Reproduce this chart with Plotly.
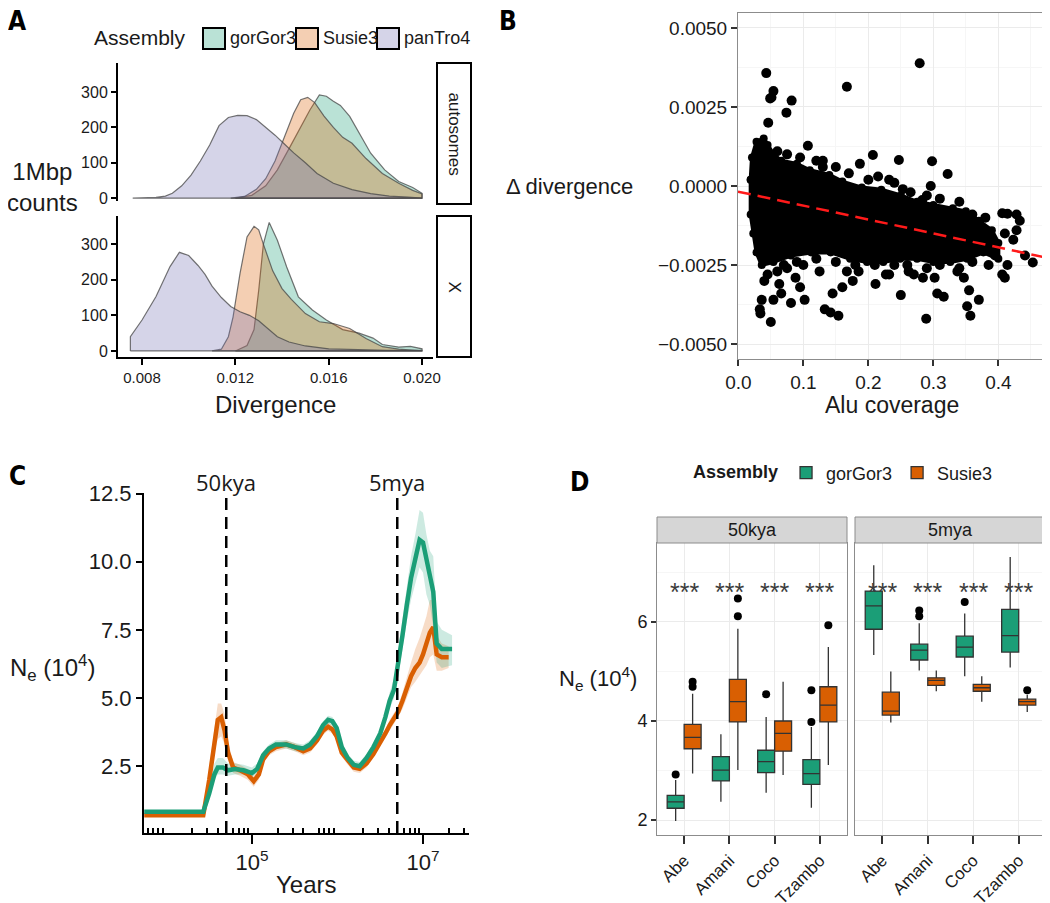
import numpy as np
import plotly.graph_objects as go

W, H = 1050, 903
OFF = 8  # the page body margin moves the figure 8px right and down
FONT = "Liberation Sans, Arial, Helvetica, sans-serif"
NARROW = "Liberation Sans Narrow, Arial Narrow, DejaVu Sans Condensed, sans-serif"


def fx(p):  # screen column -> paper x
    return (p - OFF) / W


def fy(p):  # screen row -> paper y
    return 1 - (p - OFF) / H


# ---------------- A: divergence densities per 1Mbp window ----------------
auto_gor_x = [0.0120, 0.0127, 0.0133, 0.0138, 0.0143, 0.0148, 0.0152, 0.0156, 0.0159, 0.0162, 0.0165,
              0.0169, 0.0173, 0.0178, 0.0184, 0.0190, 0.0196, 0.0200, 0.0200]
auto_gor_y = [0, 8, 35, 80, 140, 200, 250, 292, 288, 274, 262, 231, 184, 127, 80, 47, 30, 14, 0]
auto_sus_x = [0.0118, 0.0124, 0.0129, 0.0133, 0.0137, 0.0141, 0.0145, 0.0148, 0.0151, 0.0154, 0.0158,
              0.0162, 0.0166, 0.0170, 0.0176, 0.0183, 0.0190, 0.0196, 0.0200, 0.0200]
auto_sus_y = [0, 5, 25, 55, 105, 170, 240, 278, 285, 270, 232, 200, 172, 155, 112, 70, 42, 22, 12, 0]
auto_pan_x = [0.0076, 0.0082, 0.0086, 0.0090, 0.0093, 0.0097, 0.0101, 0.0105, 0.0109, 0.0113, 0.0117,
              0.0121, 0.0125, 0.0129, 0.0133, 0.0137, 0.0141, 0.0145, 0.0150, 0.0155, 0.0162, 0.0170,
              0.0178, 0.0186, 0.0194, 0.0200, 0.0200]
auto_pan_y = [0, 1, 2, 6, 14, 35, 65, 105, 150, 205, 228, 234, 233, 222, 200, 178, 153, 128, 100, 70,
              42, 24, 13, 6, 3, 2, 0]

x_gor_x = [0.0120, 0.0125, 0.0128, 0.0130, 0.0132, 0.01345, 0.0138, 0.0142, 0.0147, 0.0153, 0.0159,
           0.0166, 0.0173, 0.0179, 0.0183, 0.0190, 0.0195, 0.0200, 0.0200]
x_gor_y = [0, 15, 60, 170, 300, 361, 311, 236, 152, 115, 87, 60, 50, 36, 18, 11, 13, 6, 0]
x_sus_x = [0.0110, 0.0114, 0.0117, 0.0119, 0.0122, 0.0125, 0.0128, 0.0130, 0.0132, 0.0136, 0.0140,
           0.0144, 0.0150, 0.0156, 0.0162, 0.0169, 0.0176, 0.0183, 0.0190, 0.0200, 0.0200]
x_sus_y = [0, 5, 40, 95, 218, 320, 350, 340, 300, 225, 175, 145, 105, 82, 77, 63, 35, 12, 5, 2, 0]
x_pan_x = [0.0075, 0.0075, 0.0080, 0.0086, 0.0092, 0.0096, 0.0100, 0.0104, 0.0107, 0.0110, 0.0114,
           0.0118, 0.0122, 0.0126, 0.0130, 0.0134, 0.0138, 0.0143, 0.0150, 0.0160, 0.0170, 0.0185,
           0.0200, 0.0200]
x_pan_y = [0, 40, 87, 153, 237, 277, 268, 240, 215, 182, 150, 125, 110, 100, 85, 62, 40, 25, 14, 6,
           4, 2, 2, 0]

a_assemblies = ["gorGor3", "Susie3", "panTro4"]
a_ticks = [0.008, 0.012, 0.016, 0.020]
a_count_ticks = [0, 100, 200, 300]

# ---------------- B: Alu coverage vs delta divergence ----------------
# dense core of the cloud (outline, read clockwise)
core_x = [0.019, 0.021, 0.028, 0.039, 0.045, 0.054, 0.066, 0.090, 0.110, 0.140, 0.160, 0.190, 0.220,
          0.250, 0.275, 0.300, 0.330, 0.350, 0.370, 0.390, 0.400,
          0.400, 0.377, 0.352, 0.326, 0.300, 0.275, 0.249, 0.223, 0.198, 0.172, 0.142, 0.112, 0.081,
          0.054, 0.036, 0.028, 0.023, 0.019]
core_y = [0.0002, 0.0009, 0.0014, 0.0015, 0.0013, 0.0010, 0.0008, 0.0007, 0.0005, 0.00035, 0.00014,
          -0.00005, -0.00012, -0.0003, -0.0005, -0.0006, -0.0007, -0.0008, -0.0011, -0.0014, -0.0018,
          -0.0023, -0.0021, -0.0023, -0.0024, -0.0024, -0.0023, -0.0023, -0.0024, -0.0024, -0.0023,
          -0.0021, -0.0021, -0.0022, -0.0024, -0.0025, -0.0021, -0.0015, -0.0009]
# scattered windows around and outside the core
b_x = [0.043, 0.279, 0.167, 0.049, 0.054, 0.051, 0.082, 0.074, 0.046, 0.107, 0.207, 0.247, 0.298,
       0.322, 0.187, 0.232, 0.296, 0.253, 0.283, 0.406, 0.414, 0.428, 0.433, 0.428, 0.423, 0.441,
       0.453, 0.034, 0.050, 0.036, 0.033, 0.054, 0.066, 0.063, 0.081, 0.088, 0.095, 0.102, 0.100,
       0.133, 0.142, 0.154, 0.145, 0.160, 0.211, 0.250, 0.289, 0.302, 0.306, 0.316, 0.352, 0.357,
       0.355, 0.370, 0.347, 0.337, 0.406, 0.410, 0.414, 0.284, 0.232, 0.262, 0.167, 0.176, 0.125,
       0.185, 0.227, 0.270, 0.040, 0.045, 0.060, 0.075, 0.120, 0.150, 0.130,
       0.060, 0.075, 0.095, 0.130, 0.170, 0.200, 0.215, 0.240, 0.265, 0.290, 0.310, 0.340, 0.360,
       0.380, 0.410, 0.070, 0.090, 0.120, 0.150, 0.180, 0.210, 0.240, 0.260, 0.290, 0.310, 0.340,
       0.360, 0.385, 0.395]
b_y = [0.00357, 0.00388, 0.00314, 0.00277, 0.0030, 0.0028, 0.0027, 0.00232, 0.0020, 0.00127,
       0.00098, 0.00082, 0.00078, 0.00038, 0.0007, 0.0002, 0.0, -0.0001, -0.00044, -0.00086,
       -0.00088, -0.0009, -0.0011, -0.0014, -0.0017, -0.0022, -0.00242, -0.00403, -0.0043,
       -0.0036, -0.0039, -0.0036, -0.0034, -0.0031, -0.0037, -0.0029, -0.0032, -0.0036, -0.0025,
       -0.0039, -0.0040, -0.0041, -0.0034, -0.0032, -0.0031, -0.00345, -0.0042, -0.0029, -0.0034,
       -0.0035, -0.0038, -0.0041, -0.0033, -0.0036, -0.0029, -0.0027, -0.0028, -0.0029, -0.0025,
       -0.0029, -0.0028, -0.0027, -0.0027, -0.0030, -0.0027, -0.0027, -0.0028, -0.0028, -0.0030,
       -0.0028, -0.0027, -0.0026, 0.0008, 0.0006, 0.0006,
       0.0011, 0.0010, 0.0009, 0.0008, 0.0004, 0.0002, 0.0003, 0.0001, -0.0002, -0.0003, -0.0004,
       -0.0005, -0.0009, -0.0010, -0.0015, -0.0025, -0.0024, -0.0023, -0.0024, -0.0025, -0.0025,
       -0.0025, -0.0025, -0.0026, -0.0025, -0.0026, -0.0024, -0.0025, -0.0022]
fit_intercept = -0.00018
fit_slope = -0.0044

# ---------------- C: PSMC Ne through time ----------------
c_gor_logyr = [3.74, 4.43, 4.50, 4.56, 4.60, 4.66, 4.72, 4.80, 4.90, 5.00, 5.06, 5.13, 5.20, 5.28, 5.40,
               5.50, 5.60, 5.68, 5.76, 5.83, 5.89, 5.94, 5.99, 6.05, 6.12, 6.19, 6.26, 6.34, 6.42, 6.50,
               6.56, 6.61, 6.66, 6.71, 6.76, 6.81, 6.86, 6.91, 6.96, 7.00, 7.04, 7.08, 7.12, 7.16, 7.22,
               7.34]
c_gor_ne = [0.83, 0.83, 1.5, 2.2, 2.45, 2.45, 2.35, 2.4, 2.35, 2.25, 2.4, 2.9, 3.15, 3.3, 3.3, 3.2, 3.15,
            3.3, 3.6, 4.0, 4.2, 4.15, 3.9, 3.2, 2.8, 2.55, 2.5, 2.8, 3.2, 3.7, 4.3, 4.9, 5.3, 6.2, 7.3,
            8.4, 9.4, 10.1, 10.8, 10.7, 10.0, 9.5, 8.9, 7.0, 6.8, 6.8]
c_gor_lo = [0.78, 0.78, 1.3, 2.0, 2.2, 2.2, 2.15, 2.2, 2.2, 2.1, 2.25, 2.75, 3.0, 3.15, 3.15, 3.05, 3.0,
            3.15, 3.45, 3.85, 4.05, 4.0, 3.75, 3.05, 2.65, 2.4, 2.35, 2.65, 3.05, 3.5, 4.1, 4.6, 5.0,
            5.8, 6.8, 7.8, 8.6, 9.2, 9.8, 9.6, 8.8, 8.4, 7.6, 6.3, 6.1, 6.2]
c_gor_hi = [0.88, 0.88, 1.8, 2.6, 2.8, 2.8, 2.6, 2.6, 2.55, 2.45, 2.6, 3.05, 3.3, 3.45, 3.45, 3.35, 3.3,
            3.45, 3.75, 4.15, 4.35, 4.3, 4.05, 3.35, 2.95, 2.7, 2.65, 2.95, 3.35, 3.9, 4.5, 5.2, 5.7,
            6.7, 7.9, 9.0, 10.2, 11.0, 11.9, 11.8, 11.0, 10.4, 10.2, 7.8, 7.5, 7.3]
c_sus_logyr = [3.74, 4.43, 4.50, 4.56, 4.60, 4.64, 4.68, 4.72, 4.78, 4.86, 4.95, 5.02, 5.08, 5.13, 5.20,
               5.28, 5.40, 5.50, 5.60, 5.68, 5.76, 5.83, 5.89, 5.94, 5.99, 6.05, 6.12, 6.19, 6.26, 6.34,
               6.42, 6.50, 6.56, 6.61, 6.66, 6.71, 6.76, 6.81, 6.86, 6.91, 6.96, 7.00, 7.04, 7.08, 7.12,
               7.16, 7.22, 7.30]
c_sus_ne = [0.70, 0.70, 2.0, 3.5, 4.2, 4.3, 3.8, 3.0, 2.45, 2.35, 2.2, 1.95, 2.2, 2.75, 3.05, 3.2, 3.3,
            3.2, 3.05, 3.15, 3.45, 3.8, 3.95, 3.85, 3.6, 3.0, 2.7, 2.45, 2.4, 2.6, 2.95, 3.35, 3.7, 4.0,
            4.25, 4.5, 4.9, 5.4, 5.8, 6.1, 6.3, 6.6, 7.0, 7.4, 7.6, 6.6, 6.5, 6.5]
c_sus_lo = [0.65, 0.65, 1.6, 3.0, 3.5, 3.6, 3.3, 2.7, 2.25, 2.15, 2.0, 1.75, 2.0, 2.6, 2.9, 3.05, 3.15,
            3.05, 2.9, 3.0, 3.3, 3.65, 3.8, 3.7, 3.45, 2.85, 2.55, 2.3, 2.25, 2.45, 2.8, 3.2, 3.55, 3.8,
            4.05, 4.3, 4.6, 5.0, 5.4, 5.6, 5.8, 6.0, 6.2, 6.5, 6.6, 6.0, 6.0, 6.1]
c_sus_hi = [0.75, 0.75, 2.5, 4.0, 4.8, 4.8, 4.4, 3.4, 2.65, 2.55, 2.4, 2.15, 2.4, 2.9, 3.2, 3.35, 3.45,
            3.35, 3.2, 3.3, 3.6, 3.95, 4.1, 4.0, 3.75, 3.15, 2.85, 2.6, 2.55, 2.75, 3.1, 3.5, 3.85, 4.2,
            4.45, 4.7, 5.2, 5.8, 6.3, 6.8, 7.2, 7.6, 8.0, 8.6, 8.6, 7.3, 7.0, 6.9]
c_marks = [5e4, 5e6]
c_mark_labels = ["50kya", "5mya"]

# ---------------- D: Ne at two time points, per individual ----------------
d_cats = ["Abe", "Amani", "Coco", "Tzambo"]
# [lower whisker, q1, median, q3, upper whisker] per individual
d50_gor = [[1.98, 2.24, 2.37, 2.50, 2.81], [2.37, 2.79, 3.01, 3.28, 3.73],
           [2.55, 2.96, 3.18, 3.41, 4.08], [2.25, 2.72, 2.94, 3.22, 3.88]]
d50_sus = [[2.94, 3.44, 3.67, 3.93, 4.55], [3.01, 3.98, 4.39, 4.84, 5.86],
           [2.91, 3.39, 3.75, 4.00, 4.79], [3.11, 3.98, 4.32, 4.69, 5.49]]
d5m_gor = [[5.33, 5.85, 6.32, 6.62, 7.14], [5.02, 5.23, 5.43, 5.55, 5.97],
           [4.90, 5.29, 5.49, 5.71, 6.17], [5.08, 5.39, 5.72, 6.25, 7.31]]
d5m_sus = [[3.97, 4.12, 4.20, 4.58, 5.00], [4.60, 4.72, 4.82, 4.87, 5.02],
           [4.39, 4.60, 4.67, 4.74, 4.90], [4.18, 4.32, 4.39, 4.44, 4.53]]
d50_gor_out = [("Abe", 2.92), ("Coco", 4.54), ("Tzambo", 3.98), ("Tzambo", 4.62)]
d50_sus_out = [("Abe", 4.69), ("Abe", 4.79), ("Amani", 6.11), ("Amani", 6.47), ("Tzambo", 5.93)]
d5m_gor_out = [("Amani", 6.11), ("Amani", 6.23), ("Coco", 6.40)]
d5m_sus_out = [("Tzambo", 4.62)]
d_sig_y = 6.72

GREEN, ORANGE, PURPLE = "27,158,119", "217,95,2", "117,112,179"
a_rgb = {"gorGor3": GREEN, "Susie3": ORANGE, "panTro4": PURPLE}

fig = go.Figure()

# ---- A traces
a_sets = [
    ("x", "y", [auto_gor_x, auto_sus_x, auto_pan_x], [auto_gor_y, auto_sus_y, auto_pan_y]),
    ("x2", "y2", [x_gor_x, x_sus_x, x_pan_x], [x_gor_y, x_sus_y, x_pan_y]),
]
for xa, ya, xss, yss in a_sets:
    for name, xs, ys in zip(a_assemblies, xss, yss):
        fig.add_trace(go.Scatter(
            x=xs + [xs[0]], y=ys + [ys[0]], mode="lines", fill="toself",
            fillcolor=f"rgba({a_rgb[name]},0.3)", line=dict(color="rgba(70,70,70,0.75)", width=1.2),
            name=name, showlegend=False, xaxis=xa, yaxis=ya, hoverinfo="skip"))

# ---- B traces
fig.add_trace(go.Scatter(x=core_x + [core_x[0]], y=core_y + [core_y[0]], mode="lines+markers",
                         fill="toself", fillcolor="black", line=dict(color="black", width=4),
                         marker=dict(color="black", size=8), showlegend=False, xaxis="x3", yaxis="y3"))
fig.add_trace(go.Scatter(x=b_x, y=b_y, mode="markers", marker=dict(color="black", size=10),
                         showlegend=False, xaxis="x3", yaxis="y3"))
b_xrange = [-0.0005, 0.4733]
b_fit_x = np.array([b_xrange[0], b_xrange[1] + 0.01])
fig.add_trace(go.Scatter(x=b_fit_x, y=fit_intercept + fit_slope * b_fit_x, mode="lines",
                         line=dict(color="#ff1a1a", width=2.5, dash="13px,7px"),
                         showlegend=False, xaxis="x3", yaxis="y3", cliponaxis=True))

# ---- C traces
c_yrange = [0.05, 12.52]
for t, lo, hi, rgb in [(c_sus_logyr, c_sus_lo, c_sus_hi, ORANGE), (c_gor_logyr, c_gor_lo, c_gor_hi, GREEN)]:
    yrs = [10 ** v for v in t]
    fig.add_trace(go.Scatter(x=yrs + yrs[::-1], y=hi + lo[::-1], mode="lines", fill="toself",
                             fillcolor=f"rgba({rgb},0.22)", line=dict(width=0), showlegend=False,
                             xaxis="x4", yaxis="y4", hoverinfo="skip"))
for t, ne, rgb in [(c_sus_logyr, c_sus_ne, ORANGE), (c_gor_logyr, c_gor_ne, GREEN)]:
    fig.add_trace(go.Scatter(x=[10 ** v for v in t], y=ne, mode="lines",
                             line=dict(color=f"rgb({rgb})", width=4.5), showlegend=False,
                             xaxis="x4", yaxis="y4"))
for m in c_marks:
    fig.add_trace(go.Scatter(x=[m, m], y=c_yrange, mode="lines",
                             line=dict(color="black", width=2.5, dash="12px,7px"),
                             showlegend=False, xaxis="x4", yaxis="y4"))

# ---- D traces
dodge = 0.1875
d_sets = [
    ("x5", "y5", d50_gor, d50_gor_out, "gorGor3", GREEN, -dodge, True),
    ("x5", "y5", d50_sus, d50_sus_out, "Susie3", ORANGE, dodge, True),
    ("x6", "y6", d5m_gor, d5m_gor_out, "gorGor3", GREEN, -dodge, False),
    ("x6", "y6", d5m_sus, d5m_sus_out, "Susie3", ORANGE, dodge, False),
]
for xa, ya, stats, outs, name, rgb, off, show in d_sets:
    pos = [i + 1 + off for i in range(len(d_cats))]
    fig.add_trace(go.Box(
        x=pos, lowerfence=[s[0] for s in stats], q1=[s[1] for s in stats], median=[s[2] for s in stats],
        q3=[s[3] for s in stats], upperfence=[s[4] for s in stats], width=0.375, whiskerwidth=0,
        fillcolor=f"rgb({rgb})", line=dict(color="#333333", width=1.3), name=name,
        legend="legend2", showlegend=show, xaxis=xa, yaxis=ya))
    fig.add_trace(go.Scatter(
        x=[d_cats.index(c) + 1 + off for c, v in outs], y=[v for c, v in outs], mode="markers",
        marker=dict(color="black", size=8), showlegend=False, xaxis=xa, yaxis=ya))

# ---- axes
A_X = [fx(118), fx(433)]
a_xrange = [0.00697, 0.02047]
axis_black = dict(showline=True, linecolor="black", linewidth=2, ticks="outside", tickcolor="black",
                  tickwidth=2, showgrid=False, zeroline=False)
bw_common = dict(showline=True, mirror=True, linecolor="#8c8c8c", linewidth=1, gridcolor="#ebebeb",
                 zeroline=False, ticks="outside", tickcolor="#333333", tickwidth=2)

minor_c = [d * 10 ** e for e in range(3, 8) for d in range(2, 10) if d != 5]

fig.update_layout(
    width=W, height=H, margin=dict(l=0, r=0, t=0, b=0, pad=0, autoexpand=False),
    paper_bgcolor="white", plot_bgcolor="white",
    font=dict(family=FONT, color="#1a1a1a"),
    # A
    xaxis=dict(domain=A_X, anchor="y", range=a_xrange, matches="x2", showticklabels=False,
               showline=False, ticks="", showgrid=False, zeroline=False),
    yaxis=dict(domain=[fy(201), fy(63)], anchor="x", range=[-8, 382], tickvals=a_count_ticks,
               ticklen=5, tickfont=dict(size=16), **axis_black),
    xaxis2=dict(domain=A_X, anchor="y2", range=a_xrange, tickvals=a_ticks,
                ticktext=[f"{v:.3f}" for v in a_ticks], ticklen=6, tickfont=dict(size=15), **axis_black),
    yaxis2=dict(domain=[fy(357), fy(216)], anchor="x2", range=[-17, 379], tickvals=a_count_ticks,
                ticklen=5, tickfont=dict(size=16), **axis_black),
    # B
    xaxis3=dict(domain=[fx(738), fx(1046)], anchor="y3", range=b_xrange, tick0=0, dtick=0.1,
                tickformat=".1f", ticklen=6, tickfont=dict(size=19),
                minor=dict(dtick=0.05, showgrid=True, gridcolor="#f6f6f6", ticks=""), **bw_common),
    yaxis3=dict(domain=[fy(359), fy(13)], anchor="x3", range=[-0.00547, 0.00547], tick0=0, dtick=0.0025,
                tickformat=".4f", ticklen=6, tickfont=dict(size=19),
                minor=dict(dtick=0.00125, showgrid=True, gridcolor="#f6f6f6", ticks=""), **bw_common),
    # C
    xaxis4=dict(domain=[fx(144), fx(469)], anchor="y4", type="log", range=[3.737, 7.538],
                tickvals=[1e5, 1e7], ticktext=["10<sup>5</sup>", "10<sup>7</sup>"], ticklen=9,
                tickfont=dict(size=22),
                minor=dict(tickvals=minor_c, ticks="inside", ticklen=5, tickwidth=1.5, tickcolor="black",
                           showgrid=False), **axis_black),
    xaxis7=dict(overlaying="x4", anchor="y4", type="log", range=[3.737, 7.538],
                tickvals=[1e3, 1e4, 1e5, 1e6, 1e7], ticks="inside", ticklen=18, tickwidth=2,
                tickcolor="black", showticklabels=False, showline=False, showgrid=False, zeroline=False),
    xaxis8=dict(overlaying="x4", anchor="y4", type="log", range=[3.737, 7.538],
                tickvals=[5e3, 5e4, 5e5, 5e6, 5e7], ticks="inside", ticklen=10, tickwidth=1.5,
                tickcolor="black", showticklabels=False, showline=False, showgrid=False, zeroline=False),
    yaxis4=dict(domain=[fy(833), fy(493)], anchor="x4", range=c_yrange,
                tickvals=[2.5, 5.0, 7.5, 10.0, 12.5], tickformat=".1f", ticklen=6,
                tickfont=dict(size=22), **axis_black),
    # D
    xaxis5=dict(domain=[fx(657), fx(847)], anchor="y5", range=[0.4, 4.6], tickvals=[1, 2, 3, 4],
                ticktext=d_cats, tickangle=-45, ticklen=8, tickfont=dict(size=17), **bw_common),
    yaxis5=dict(domain=[fy(835), fy(543)], anchor="x5", range=[1.70, 7.59], tick0=2, dtick=2,
                ticklen=5, tickfont=dict(size=18),
                minor=dict(dtick=1, showgrid=True, gridcolor="#f6f6f6", ticks=""), **bw_common),
    xaxis6=dict(domain=[fx(855), fx(1046)], anchor="y6", range=[0.4, 4.6], tickvals=[1, 2, 3, 4],
                ticktext=d_cats, tickangle=-45, ticklen=8, tickfont=dict(size=17), **bw_common),
    yaxis6=dict(domain=[fy(835), fy(543)], anchor="x6", matches="y5", tick0=2, dtick=2,
                showticklabels=False, ticklen=0,
                minor=dict(dtick=1, showgrid=True, gridcolor="#f6f6f6", ticks=""), **bw_common),
    legend2=dict(orientation="h", x=fx(691), y=fy(473), xanchor="left", yanchor="middle",
                 bgcolor="rgba(0,0,0,0)", font=dict(size=18), itemwidth=30,
                 title=dict(text="<b>Assembly</b>", font=dict(size=18), side="left")),
)
fig.update_xaxes(automargin=False)
fig.update_yaxes(automargin=False)

# ---- decorations: legend A, strips, titles, panel letters
shapes = []
ann = []

ann.append(dict(text="Assembly", x=fx(140), y=fy(38), font=dict(size=21)))
for name, kx in zip(a_assemblies, [203, 296, 377]):
    shapes.append(dict(type="rect", xref="paper", yref="paper", x0=fx(kx), x1=fx(kx + 22), y0=fy(49),
                       y1=fy(28), line=dict(color="black", width=2), fillcolor=f"rgba({a_rgb[name]},0.3)"))
    ann.append(dict(text=name, x=fx(kx + 25), y=fy(38), xanchor="left", font=dict(size=18)))

for y0, y1, lab in [(63, 204, "autosomes"), (216, 357, "X")]:
    shapes.append(dict(type="rect", xref="paper", yref="paper", x0=fx(437), x1=fx(471), y0=fy(y1),
                       y1=fy(y0), line=dict(color="black", width=2), fillcolor="white"))
    ann.append(dict(text=lab, x=fx(454), y=fy((y0 + y1) / 2), textangle=90, font=dict(size=17)))
for x0, x1, lab in [(657, 847, "50kya"), (855, 1046, "5mya")]:
    shapes.append(dict(type="rect", xref="paper", yref="paper", x0=fx(x0), x1=fx(x1), y0=fy(543),
                       y1=fy(517), line=dict(color="#8c8c8c", width=1), fillcolor="#d6d6d6"))
    ann.append(dict(text=lab, x=fx((x0 + x1) / 2), y=fy(530), font=dict(size=18)))

for lab, x, y in [("A", 17, 21), ("B", 508, 21), ("C", 17, 476), ("D", 579, 482)]:
    ann.append(dict(text=f"<b>{lab}</b>", x=fx(x), y=fy(y), font=dict(size=26, family=NARROW, color="black")))

ann += [
    dict(text="1Mbp<br>counts", x=fx(42), y=fy(187), font=dict(size=24)),
    dict(text="Divergence", x=fx(275), y=fy(405), font=dict(size=24)),
    dict(text="\u0394 divergence", x=fx(569), y=fy(186), font=dict(size=22)),
    dict(text="Alu coverage", x=fx(892), y=fy(405), font=dict(size=23)),
    dict(text="N<sub>e</sub> (10<sup>4</sup>)", x=fx(52), y=fy(668), font=dict(size=24)),
    dict(text="Years", x=fx(306), y=fy(884), font=dict(size=24)),
    dict(text="N<sub>e</sub> (10<sup>4</sup>)", x=fx(598), y=fy(678), font=dict(size=22)),
]
for a in ann:
    a.setdefault("xanchor", "center")
    a.update(xref="paper", yref="paper", showarrow=False, yanchor="middle")

for m, lab in zip(c_marks, c_mark_labels):
    ann.append(dict(text=lab, xref="x4", x=np.log10(m), yref="paper", y=fy(482), showarrow=False,
                    xanchor="center", yanchor="middle",
                    font=dict(size=22, family="Open Sans, Liberation Sans, sans-serif")))

for xa, ya in [("x5", "y5"), ("x6", "y6")]:
    for i in range(len(d_cats)):
        ann.append(dict(text="***", xref=xa, yref=ya, x=i + 1, y=d_sig_y, yshift=-6, showarrow=False,
                        xanchor="center", yanchor="middle", font=dict(size=25, color="#3c3c3c")))

fig.update_layout(shapes=shapes, annotations=ann)

fig.write_html("out.html")
